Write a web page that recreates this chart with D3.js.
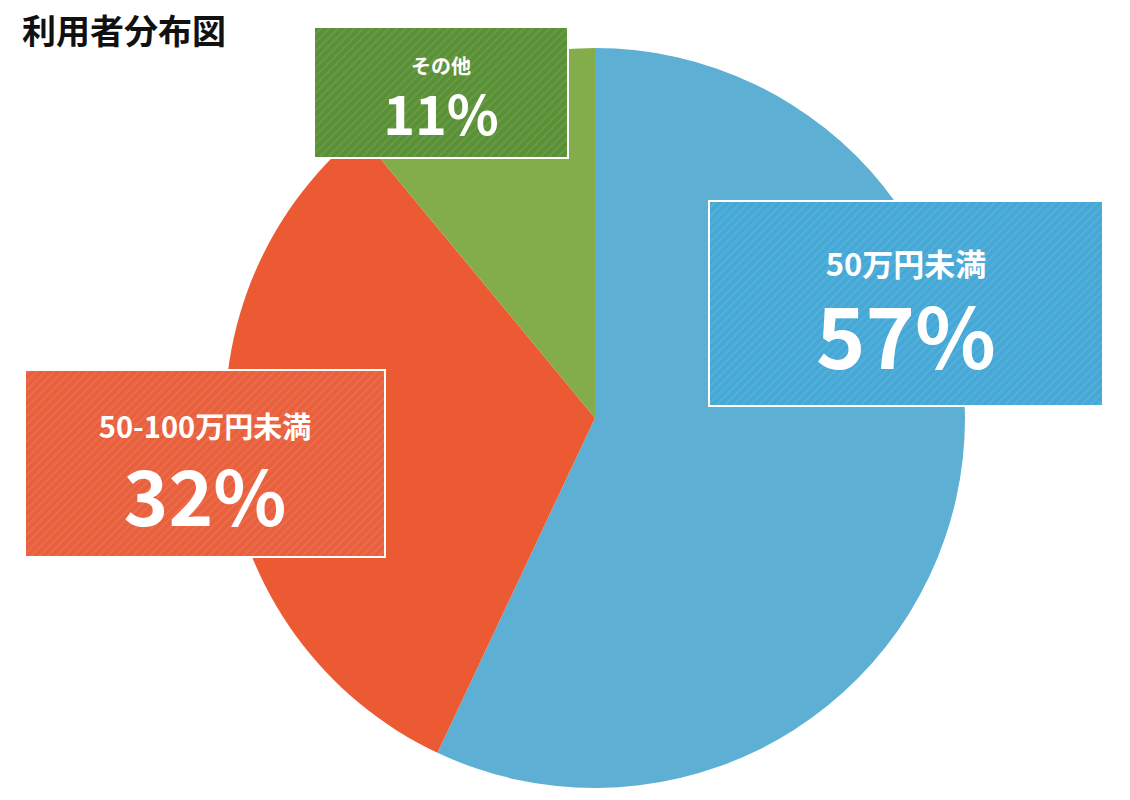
<!DOCTYPE html>
<html><head><meta charset="utf-8">
<script src="https://d3js.org/d3.v7.min.js"></script>
<style>body{margin:0;background:#fff}</style></head>
<body><svg id="c" width="1130" height="800"></svg>
<script>
const categories = ["50万円未満", "50-100万円未満", "その他"];
const values = [57, 32, 11];
const colors = ["#5dafd3", "#ec5a33", "#83ad4a"];
const boxColors = ["#45a8d6", "#e9603d", "#5a9136"];
const boxes = [
  {x:709,y:201,w:394,h:205,ly:262,ls:31,py:332,ps:84},
  {x:25,y:370,w:360,h:187,ly:425,ls:29,py:493,ps:76},
  {x:314,y:27,w:254,h:131,ly:65,ls:20,py:111,ps:54}
];
const svg = d3.select("#c");
const defs = svg.append("defs");
boxColors.forEach((c,i)=>{
  const p = defs.append("pattern").attr("id","h"+i).attr("width",6).attr("height",6)
    .attr("patternUnits","userSpaceOnUse").attr("patternTransform","rotate(45)");
  p.append("rect").attr("width",6).attr("height",6).attr("fill",c);
  p.append("rect").attr("width",2).attr("height",6).attr("fill","#fff").attr("opacity",0.08);
});
const cx=595, cy=418, r=370;
const pie = d3.pie().sort(null).value(d=>d)(values);
const arc = d3.arc().innerRadius(0).outerRadius(r);
svg.append("g").attr("transform",`translate(${cx},${cy})`)
  .selectAll("path").data(pie).join("path").attr("d",arc).attr("fill",(d,i)=>colors[i]);
const font = "'Noto Sans CJK JP','Noto Sans',sans-serif";
boxes.forEach((b,i)=>{
  const g = svg.append("g");
  g.append("rect").attr("x",b.x).attr("y",b.y).attr("width",b.w).attr("height",b.h)
    .attr("fill",`url(#h${i})`).attr("stroke","#fff").attr("stroke-width",2);
  g.append("text").attr("x",b.x+b.w/2).attr("y",b.ly).attr("text-anchor","middle")
    .attr("dominant-baseline","central").attr("fill","#fff").attr("font-family",font)
    .attr("font-weight","bold").attr("font-size",b.ls).text(categories[i]);
  g.append("text").attr("x",b.x+b.w/2).attr("y",b.py).attr("text-anchor","middle")
    .attr("dominant-baseline","central").attr("fill","#fff").attr("font-family",font)
    .attr("font-weight","bold").attr("font-size",b.ps).text(values[i]+"%");
});
svg.append("text").attr("x",22).attr("y",44).attr("font-family",font).attr("font-weight","bold")
  .attr("font-size",34).attr("fill","#111").text("利用者分布図");
</script></body></html>
